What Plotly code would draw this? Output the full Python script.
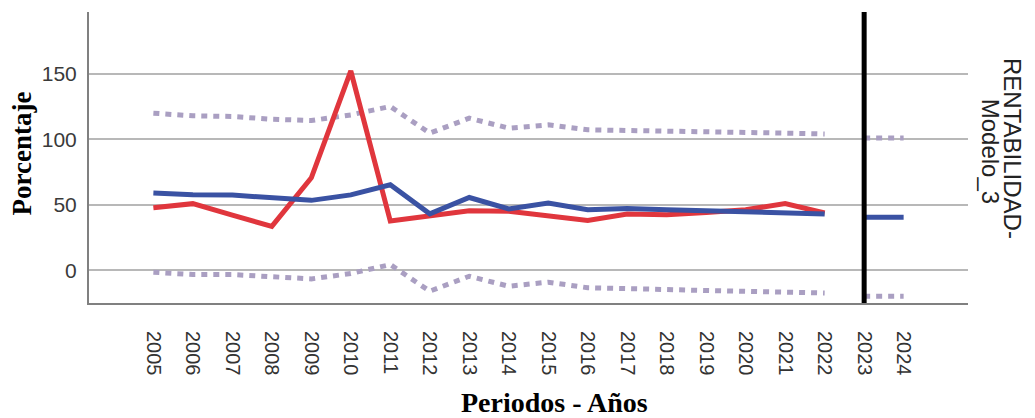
import plotly.graph_objects as go

# Periodos observados y pronosticados
years = list(range(2005, 2023))
forecast_years = [2023, 2024]

# RENTABILIDAD (observado, rojo) y ajuste Modelo_3 (azul)
observed = [47.7, 50.8, 42.0, 33.5, 70.5, 152.0, 37.5, 41.0, 45.3, 44.9,
            41.9, 38.0, 42.9, 42.4, 44.1, 46.2, 50.8, 43.7]
fitted = [59.0, 57.5, 57.3, 55.5, 53.3, 57.5, 65.2, 43.0, 55.5, 46.7,
          51.3, 46.2, 47.0, 46.2, 45.4, 44.9, 44.1, 42.9]
# limites de confianza
ucl = [119.8, 117.8, 117.3, 115.2, 114.2, 118.5, 124.9, 104.6, 116.0, 108.4,
       110.9, 107.1, 106.6, 106.3, 105.8, 105.3, 104.6, 104.0]
lcl = [-1.5, -3.3, -3.3, -5.3, -6.6, -2.5, 4.3, -16.0, -4.6, -12.2,
       -9.1, -13.4, -13.7, -14.7, -15.5, -16.0, -16.8, -17.3]
# pronostico
forecast = [40.5, 40.5]
forecast_ucl = [100.8, 100.8]
forecast_lcl = [-19.8, -19.8]

y_ticks = [0, 50, 100, 150]

RED = "#e0363d"
BLUE = "#3a52a3"
BAND = "#aa9fc2"
dotted = dict(color=BAND, width=5, dash="6px,6px")

fig = go.Figure()

fig.add_trace(go.Scatter(x=years, y=ucl, mode="lines", line=dotted))
fig.add_trace(go.Scatter(x=years, y=lcl, mode="lines", line=dotted))
fig.add_trace(go.Scatter(x=forecast_years, y=forecast_ucl, mode="lines", line=dotted))
fig.add_trace(go.Scatter(x=forecast_years, y=forecast_lcl, mode="lines", line=dotted))
fig.add_trace(go.Scatter(x=years, y=observed, mode="lines", line=dict(color=RED, width=5)))
fig.add_trace(go.Scatter(x=years, y=fitted, mode="lines", line=dict(color=BLUE, width=5)))
fig.add_trace(go.Scatter(x=forecast_years, y=forecast, mode="lines", line=dict(color=BLUE, width=5)))

# inicio del pronostico
fig.add_shape(type="line", x0=2023, x1=2023, y0=0, y1=1, xref="x", yref="paper",
              line=dict(color="black", width=5), layer="above")

serif = "Liberation Serif, Times New Roman"
sans = "Liberation Sans, Arial"

fig.update_layout(
    width=1035,
    height=418,
    showlegend=False,
    plot_bgcolor="white",
    paper_bgcolor="white",
    margin=dict(l=81, r=75, t=4, b=123),
    xaxis=dict(
        range=[2003.37, 2025.63],
        tickvals=years + forecast_years,
        tickangle=90,
        ticks="",
        ticklabelstandoff=22,
        showgrid=False,
        zeroline=False,
        showline=True,
        linecolor="#808080",
        linewidth=2,
        tickfont=dict(family=sans, size=20, color="#333333"),
    ),
    yaxis=dict(
        range=[-25, 197],
        tickvals=y_ticks,
        ticks="",
        ticklabelstandoff=6,
        showgrid=True,
        gridcolor="#b8b8b8",
        gridwidth=1.5,
        zeroline=False,
        showline=True,
        linecolor="#808080",
        linewidth=2,
        tickfont=dict(family=sans, size=21, color="#3a3a3a"),
    ),
    annotations=[
        dict(text="<b>Porcentaje</b>", xref="paper", yref="paper", x=-0.0759, y=0.515,
             xanchor="center", yanchor="middle", textangle=-90, showarrow=False,
             font=dict(family=serif, size=27, color="black")),
        dict(text="<b>Periodos - Años</b>", xref="paper", yref="paper", x=0.53, y=-0.342,
             xanchor="center", yanchor="middle", showarrow=False,
             font=dict(family=serif, size=28, color="black")),
        dict(text="RENTABILIDAD-", xref="paper", yref="paper", x=1.0512, y=0.5326,
             xanchor="center", yanchor="middle", textangle=90, showarrow=False,
             font=dict(family=sans, size=24, color="#222222")),
        dict(text="Modelo_3", xref="paper", yref="paper", x=1.025, y=0.52,
             xanchor="center", yanchor="middle", textangle=90, showarrow=False,
             font=dict(family=sans, size=24, color="#222222")),
    ],
)

fig.write_html("out.html")
